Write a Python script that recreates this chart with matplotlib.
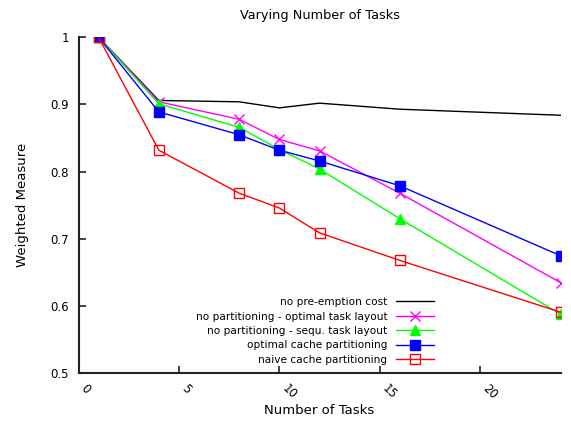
import matplotlib
matplotlib.use("Agg")
import matplotlib.pyplot as plt
from matplotlib.ticker import FormatStrFormatter

# number of tasks on the x axis
tasks = [1, 4, 8, 10, 12, 16, 24]

no_preemption = [1.0, 0.906, 0.904, 0.895, 0.902, 0.893, 0.884]
nopart_optimal = [1.0, 0.904, 0.878, 0.848, 0.831, 0.768, 0.635]
nopart_sequ = [1.0, 0.901, 0.866, 0.833, 0.804, 0.730, 0.588]
optimal_part = [1.0, 0.889, 0.855, 0.832, 0.816, 0.779, 0.675]
naive_part = [1.0, 0.832, 0.768, 0.746, 0.709, 0.668, 0.591]

labels = ["no pre-emption cost",
          "no partitioning - optimal task layout",
          "no partitioning - sequ. task layout",
          "optimal cache partitioning",
          "naive cache partitioning"]

fig = plt.figure(figsize=(5.71, 4.21), dpi=100)
ax = fig.add_axes([78.5 / 571, 47.7 / 421, 482 / 571, 336 / 421])

ax.plot(tasks, no_preemption, color="black", lw=1.0, label=labels[0])
ax.plot(tasks, nopart_optimal, color="#ff00ff", lw=1.0, marker="x",
        ms=7.5, mew=1.0, label=labels[1])
ax.plot(tasks, nopart_sequ, color="#00ff00", lw=1.0, marker="^",
        ms=7, label=labels[2])
ax.plot(tasks, optimal_part, color="#0000ff", lw=1.0, marker="s",
        ms=7, label=labels[3])
ax.plot(tasks, naive_part, color="#ff0000", lw=1.0, marker="s",
        ms=7, mfc="none", mew=1.0, label=labels[4])

ax.set_xlim(0, 24)
ax.set_ylim(0.5, 1.0)
ax.set_xticks([0, 5, 10, 15, 20])
ax.set_yticks([0.5, 0.6, 0.7, 0.8, 0.9, 1.0])
ax.yaxis.set_major_formatter(FormatStrFormatter("%g"))

for side in ["top", "right"]:
    ax.spines[side].set_visible(False)
for side in ["left", "bottom"]:
    ax.spines[side].set_linewidth(1.5)
    ax.spines[side].set_color("#222222")

ax.tick_params(direction="in", length=5, width=1.2, color="#222222",
               labelsize=8.5)
ax.tick_params(axis="y", pad=7)
ax.tick_params(axis="x", pad=6)
for lab in ax.get_xticklabels():
    lab.set_rotation(-45)
    lab.set_ha("left")
    lab.set_va("top")

ax.set_xlabel("Number of Tasks", fontsize=9.5, labelpad=2)
ax.set_ylabel("Weighted Measure", fontsize=9.5, labelpad=15)
ax.set_title("Varying Number of Tasks", fontsize=9.3, pad=13)

ax.legend(loc="lower right", bbox_to_anchor=(0.7376, 0.025), frameon=False,
          markerfirst=False, fontsize=7.6, handlelength=3.6,
          handletextpad=0.8, labelspacing=0.42, borderpad=0, borderaxespad=0)

fig.savefig("out.png", dpi=100)
